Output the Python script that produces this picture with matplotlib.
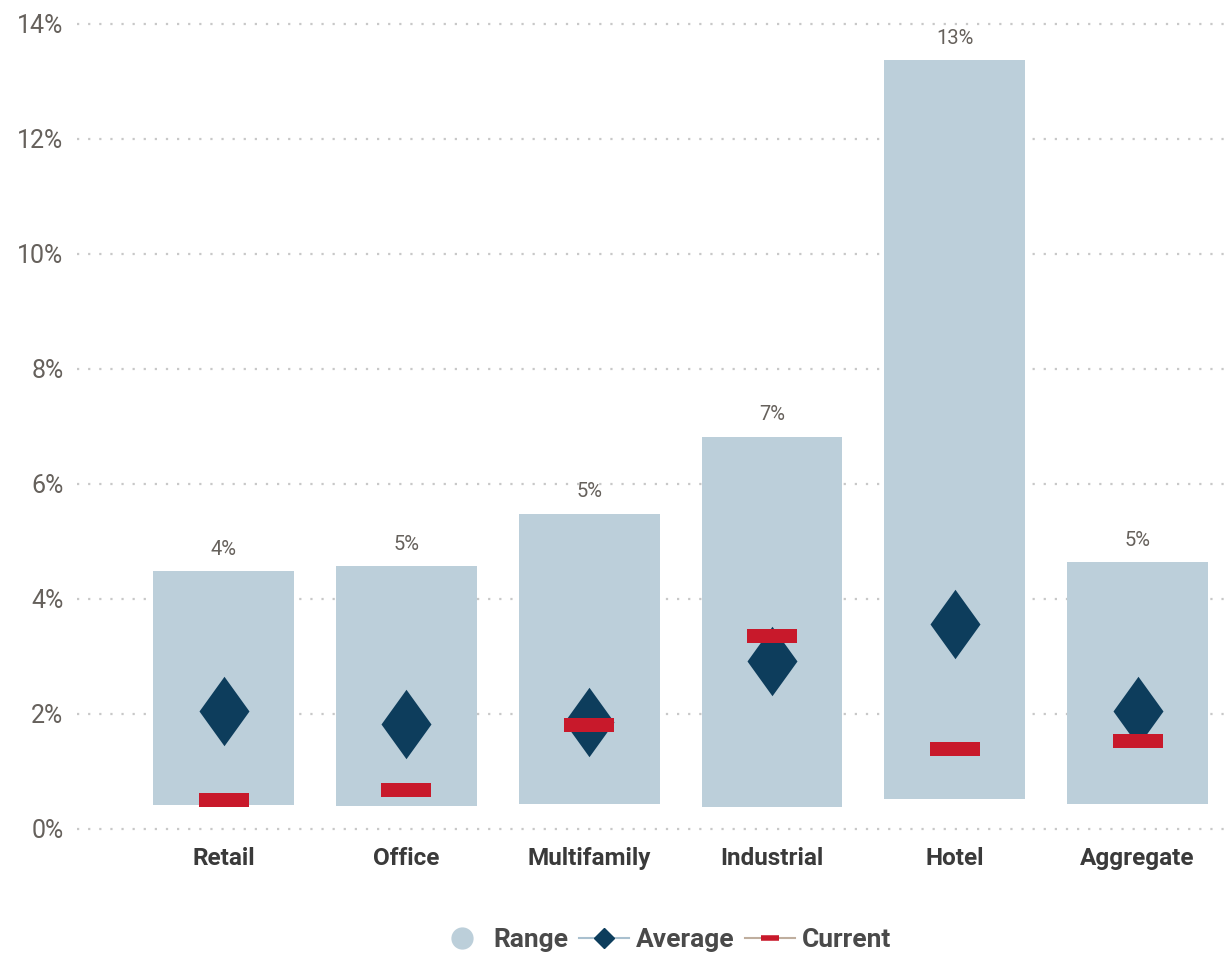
import matplotlib.pyplot as plt
from matplotlib.lines import Line2D
from matplotlib.ticker import FuncFormatter

categories = ['Retail', 'Office', 'Multifamily', 'Industrial', 'Hotel', 'Aggregate']
range_low = [0.42, 0.40, 0.43, 0.38, 0.52, 0.43]
range_high = [4.48, 4.57, 5.48, 6.82, 13.37, 4.64]
average = [2.05, 1.83, 1.86, 2.92, 3.57, 2.05]
current = [0.50, 0.68, 1.81, 3.36, 1.39, 1.53]
yticks = [0, 2, 4, 6, 8, 10, 12, 14]

bar_color = '#bccfda'
avg_color = '#0d3d5c'
cur_color = '#c8192b'
text_gray = '#66615c'
label_dark = '#3a3a3a'

fonts = ['Roboto', 'DejaVu Sans']
plt.rcParams['font.family'] = fonts

diamond = [(-0.72, 0), (0, 1), (0.72, 0), (0, -1), (-0.72, 0)]
dash = [(-1, -0.28), (1, -0.28), (1, 0.28), (-1, 0.28), (-1, -0.28)]

fig = plt.figure(figsize=(12.29, 9.58), dpi=100)
ax = fig.add_axes([0.063, 0.1347, 0.937, 0.8403])

x = range(len(categories))
heights = [h - l for h, l in zip(range_high, range_low)]
ax.bar(x, heights, bottom=range_low, width=0.77, color=bar_color, zorder=2)
ax.plot(x, average, linestyle='none', marker=diamond, markersize=50,
        color=avg_color, markeredgewidth=0, zorder=3)
ax.plot(x, current, linestyle='none', marker=dash, markersize=36,
        color=cur_color, markeredgewidth=0, zorder=4)

for i, v in enumerate(range_high):
    ax.text(i, v + 0.22, f'{v:.0f}%', ha='center', va='bottom',
            fontsize=14.5, color=text_gray)

ax.set_xlim(-0.8, 5.5)
ax.set_ylim(0, 14)
ax.set_yticks(yticks)
ax.yaxis.set_major_formatter(FuncFormatter(lambda v, p: f'{v:.0f}%'))
ax.tick_params(axis='y', length=0, labelsize=18, labelcolor=text_gray, pad=10)
ax.tick_params(axis='x', length=0, pad=13)
ax.set_xticks(list(x))
ax.set_xticklabels(categories, fontsize=17.5, fontweight='bold', color=label_dark)

ax.grid(axis='y', linestyle=(0, (1, 4)), color='#c8c8c8', linewidth=1.6, zorder=0)
ax.set_axisbelow(True)
for s in ax.spines.values():
    s.set_visible(False)
for gl in ax.get_ygridlines():
    gl.set_clip_on(False)

handles = [
    Line2D([], [], linestyle='none', marker='o', markersize=15, color=bar_color),
    Line2D([], [], color='#a9c0cf', linewidth=1.5, marker='D', markersize=10,
           markerfacecolor=avg_color, markeredgecolor=avg_color),
    Line2D([], [], color='#bfae9e', linewidth=1.5, marker='_', markersize=13,
           markeredgewidth=4, markeredgecolor=cur_color),
]
leg = fig.legend(handles, ['Range', 'Average', 'Current'], loc='center',
                 bbox_to_anchor=(0.54, 0.019), ncol=3, frameon=False,
                 handlelength=1.9, handletextpad=0.25, columnspacing=0.4,
                 prop={'family': fonts, 'size': 19, 'weight': 'bold'})
for t in leg.get_texts():
    t.set_color('#4a4a4a')

fig.savefig('out.png', dpi=100)
